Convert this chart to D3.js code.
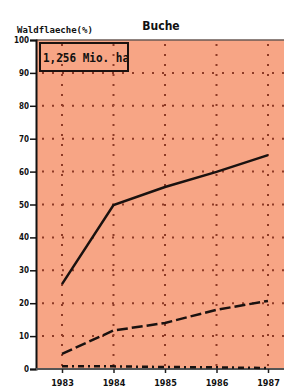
<!DOCTYPE html>
<html>
<head>
<meta charset="utf-8">
<script src="https://cdn.jsdelivr.net/npm/d3@7"></script>
<style>
  body { margin: 0; background: #fff; }
  svg { display: block; }
</style>
</head>
<body>
<div id="chart"></div>
<script>
  // values
  var years = [1983, 1984, 1985, 1986, 1987];
  var solidVals = [25.8, 49.8, 55.3, 59.9, 65.0];
  var dashedVals = [4.6, 11.7, 14.0, 18.0, 20.7];
  var dashDotVals = [0.8, 0.8, 0.6, 0.5, 0.3];
  var yTicks = [0, 10, 20, 30, 40, 50, 60, 70, 80, 90, 100];
  var gridY = [10, 20, 30, 40, 50, 60, 70, 80, 90];

  var width = 284, height = 389;
  var plot = {left: 36, right: 284, top: 40, bottom: 369};

  var svg = d3.select("#chart")
              .append("svg")
              .attr("width", width)
              .attr("height", height);

  var x = d3.scaleLinear().domain([1983, 1987]).range([62, 268]);
  var y = d3.scaleLinear().domain([0, 100]).range([plot.bottom, plot.top]);

  // orange plotting area
  svg.append("rect")
     .attr("x", plot.left)
     .attr("y", plot.top)
     .attr("width", plot.right - plot.left)
     .attr("height", plot.bottom - plot.top)
     .attr("fill", "#f7a585");

  // dotted grid
  svg.selectAll(".gy")
     .data(gridY)
     .enter()
     .append("line")
     .attr("class", "gy")
     .attr("x1", plot.left + 6).attr("x2", plot.right)
     .attr("y1", function(d){ return y(d); })
     .attr("y2", function(d){ return y(d); })
     .attr("stroke", "#8e3a26")
     .attr("stroke-width", 2)
     .attr("stroke-dasharray", "2,8");

  svg.selectAll(".gx")
     .data(years)
     .enter()
     .append("line")
     .attr("class", "gx")
     .attr("x1", function(d){ return x(d); })
     .attr("x2", function(d){ return x(d); })
     .attr("y1", plot.top + 4).attr("y2", plot.bottom)
     .attr("stroke", "#8e3a26")
     .attr("stroke-width", 2)
     .attr("stroke-dasharray", "2,8");

  // top border
  svg.append("line")
     .attr("x1", plot.left).attr("x2", plot.right)
     .attr("y1", plot.top).attr("y2", plot.top)
     .attr("stroke", "#6a5a55")
     .attr("stroke-width", 1.5);

  // axes
  var yAxis = svg.append("g")
     .attr("transform", "translate(" + plot.left + ",0)")
     .call(d3.axisLeft(y).tickValues(yTicks).tickSize(6).tickPadding(1).tickFormat(d3.format("d")));
  yAxis.select(".domain").attr("stroke", "#111").attr("stroke-width", 2);
  yAxis.selectAll(".tick line").attr("stroke", "#111").attr("stroke-width", 1.5);
  yAxis.selectAll("text")
       .attr("fill", "#111")
       .style("font-family", "'DejaVu Sans Condensed', 'DejaVu Sans'")
       .style("font-weight", "bold")
       .style("font-size", "8px");

  var xAxis = svg.append("g")
     .attr("transform", "translate(0," + plot.bottom + ")")
     .call(d3.axisBottom(x).tickValues(years).tickSize(4).tickPadding(7).tickFormat(d3.format("d")));
  xAxis.select(".domain")
       .attr("d", "M" + plot.left + ",0H" + plot.right)
       .attr("stroke", "#555").attr("stroke-width", 2);
  xAxis.selectAll(".tick line").attr("stroke", "#222").attr("stroke-width", 1.5);
  xAxis.selectAll("text")
       .attr("fill", "#111")
       .style("font-family", "'DejaVu Sans Condensed', 'DejaVu Sans'")
       .style("font-weight", "bold")
       .style("font-size", "9px");

  // series lines
  var line = d3.line()
               .x(function(d, i){ return x(years[i]); })
               .y(function(d){ return y(d); });

  svg.append("path")
     .attr("d", line(dashDotVals))
     .attr("fill", "none")
     .attr("stroke", "#1a1210")
     .attr("stroke-width", 2.5)
     .attr("stroke-dasharray", "6,4,2,4");

  svg.append("path")
     .attr("d", line(dashedVals))
     .attr("fill", "none")
     .attr("stroke", "#1a1210")
     .attr("stroke-width", 2.5)
     .attr("stroke-dasharray", "11,4");

  svg.append("path")
     .attr("d", line(solidVals))
     .attr("fill", "none")
     .attr("stroke", "#1a1210")
     .attr("stroke-width", 2.5);

  // titles
  svg.append("text")
     .attr("x", 161).attr("y", 30)
     .attr("text-anchor", "middle")
     .style("font-family", "'DejaVu Sans Condensed', 'DejaVu Sans'")
     .style("font-weight", "bold")
     .style("font-size", "12px")
     .attr("fill", "#111")
     .text("Buche");

  svg.append("text")
     .attr("x", 17).attr("y", 33)
     .style("font-family", "'DejaVu Sans Mono'")
     .style("font-size", "9px")
     .style("font-weight", "bold")
     .attr("fill", "#111")
     .text("Waldflaeche(%)");

  // annotation box
  svg.append("clipPath")
     .attr("id", "boxclip")
     .append("rect")
     .attr("x", 41).attr("y", 44).attr("width", 86).attr("height", 26);

  svg.append("text")
     .attr("x", 43).attr("y", 62)
     .attr("clip-path", "url(#boxclip)")
     .attr("textLength", 86)
     .attr("lengthAdjust", "spacingAndGlyphs")
     .style("font-family", "'DejaVu Sans Mono'")
     .style("font-weight", "bold")
     .style("font-size", "12px")
     .attr("fill", "#111")
     .text("1,256 Mio. ha");

  svg.append("rect")
     .attr("x", 40).attr("y", 43).attr("width", 88).attr("height", 28)
     .attr("fill", "none")
     .attr("stroke", "#1a1210")
     .attr("stroke-width", 2);
</script>
</body>
</html>
